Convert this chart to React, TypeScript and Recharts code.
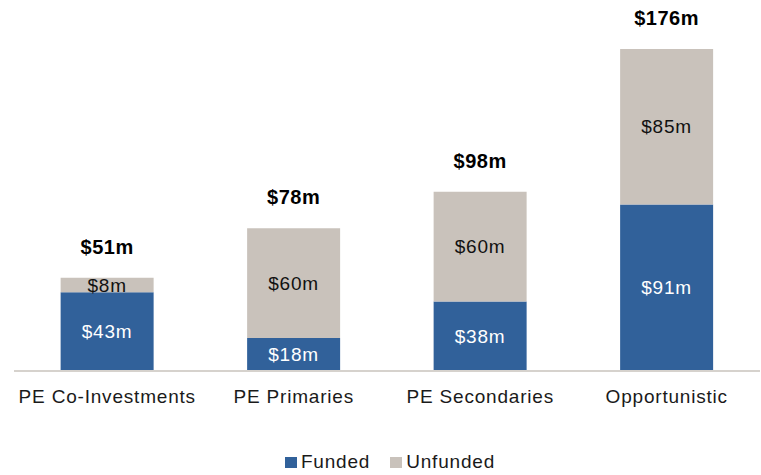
import React from "react";
import { BarChart, Bar, XAxis, YAxis, LabelList, Legend } from "recharts";

const categories = ["PE Co-Investments", "PE Primaries", "PE Secondaries", "Opportunistic"];
const funded = [43, 18, 38, 91];
const unfunded = [8, 60, 60, 85];
const totals = [51, 78, 98, 176];

const FUNDED_COLOR = "#31619A";
const UNFUNDED_COLOR = "#C9C2BB";
const FONT = "Arial, 'Liberation Sans', Helvetica, sans-serif";

const data = categories.map((name, i) => ({
  name,
  funded: funded[i],
  unfunded: unfunded[i],
  total: totals[i],
}));

const money = (v: unknown) => `$${v}m`;

// legend drawn by hand so the spacing matches the original
function LegendContent() {
  const items = [
    { label: "Funded", color: FUNDED_COLOR },
    { label: "Unfunded", color: UNFUNDED_COLOR },
  ];
  return (
    <div
      style={{
        height: 24,
        display: "flex",
        alignItems: "center",
        justifyContent: "center",
        paddingLeft: 6,
        fontFamily: FONT,
        fontSize: 19,
        letterSpacing: "0.8px",
        color: "#1a1a1a",
      }}
    >
      {items.map((it, i) => (
        <span key={it.label} style={{ display: "flex", alignItems: "center", marginLeft: i ? 20 : 0 }}>
          <span style={{ width: 12, height: 11, background: it.color, marginRight: 4, display: "inline-block" }} />
          {it.label}
        </span>
      ))}
    </div>
  );
}

export default function App() {
  return (
    <div style={{ position: "absolute", left: 0, top: 0, width: 761, height: 475, background: "#fff" }}>
      <BarChart
        width={761}
        height={475}
        data={data}
        margin={{ top: 5, right: 1, bottom: 1, left: 14 }}
        barCategoryGap="25%"
      >
        <XAxis
          dataKey="name"
          height={79}
          tickLine={false}
          tickSize={0}
          tickMargin={19}
          axisLine={{ stroke: "#D6D2CD", strokeWidth: 2 }}
          tick={{ fontSize: 19, fill: "#1a1a1a", fontFamily: FONT, letterSpacing: 0.8 }}
          interval={0}
        />
        <YAxis hide domain={[0, 200]} />
        <Legend verticalAlign="bottom" height={24} content={<LegendContent />} />
        <Bar dataKey="funded" stackId="a" fill={FUNDED_COLOR} isAnimationActive={false}>
          <LabelList
            dataKey="funded"
            position="center"
            formatter={money}
            fill="#ffffff"
            fontSize={19}
            fontFamily={FONT}
            letterSpacing={0.8}
          />
        </Bar>
        <Bar dataKey="unfunded" stackId="a" fill={UNFUNDED_COLOR} isAnimationActive={false}>
          <LabelList
            dataKey="unfunded"
            position="center"
            formatter={money}
            fill="#111111"
            fontSize={19}
            fontFamily={FONT}
            letterSpacing={0.8}
          />
          <LabelList
            dataKey="total"
            position="top"
            offset={24}
            formatter={money}
            fill="#000000"
            fontSize={20}
            fontWeight="bold"
            fontFamily={FONT}
            letterSpacing={0.5}
          />
        </Bar>
      </BarChart>
    </div>
  );
}
